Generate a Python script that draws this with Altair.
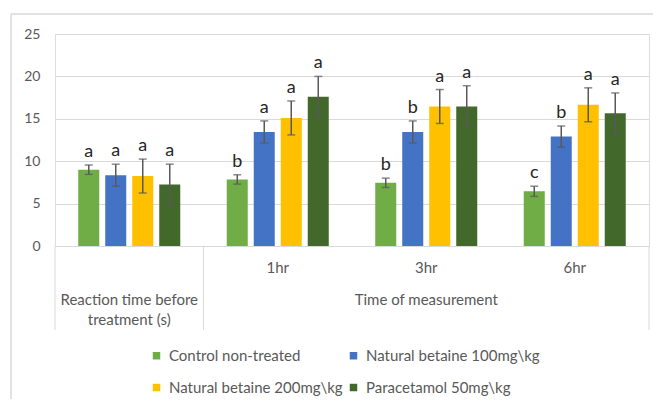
import altair as alt
import pandas as pd

# ---- data ----
cat_keys = ["pre", "1hr", "3hr", "6hr"]
cat_labels = ["", "1hr", "3hr", "6hr"]
series = ["Control non-treated", "Natural betaine 100mg\\kg",
          "Natural betaine 200mg\\kg", "Paracetamol 50mg\\kg"]
colors = ["#70ad47", "#4472c4", "#ffc000", "#43682b"]

control = [9.0, 7.85, 7.45, 6.45]
betaine100 = [8.35, 13.45, 13.45, 12.9]
betaine200 = [8.25, 15.1, 16.45, 16.65]
paracetamol = [7.25, 17.6, 16.45, 15.65]

control_err = [0.55, 0.55, 0.55, 0.6]
betaine100_err = [1.3, 1.3, 1.3, 1.25]
betaine200_err = [2.0, 2.0, 2.0, 2.0]
paracetamol_err = [2.4, 2.4, 2.45, 2.4]

control_let = ["a", "b", "b", "c"]
betaine100_let = ["a", "a", "b", "b"]
betaine200_let = ["a", "a", "a", "a"]
paracetamol_let = ["a", "a", "a", "a"]

group_titles = ["Reaction time before\ntreatment (s)", "Time of measurement"]
group_title_pos = ["pre", "3hr"]

# ---- build table ----
rows = []
for s, vals, errs, lets in zip(series,
                               [control, betaine100, betaine200, paracetamol],
                               [control_err, betaine100_err, betaine200_err, paracetamol_err],
                               [control_let, betaine100_let, betaine200_let, paracetamol_let]):
    for c, v, e, l in zip(cat_keys, vals, errs, lets):
        rows.append({"cat": c, "series": s, "value": v,
                     "lo": v - e, "hi": v + e, "letter": l})
df = pd.DataFrame(rows)
lab_df = pd.DataFrame({"cat": cat_keys, "label": cat_labels})
grp_df = pd.DataFrame({"cat": group_title_pos, "label": group_titles})
sep_df = pd.DataFrame({"cat": ["pre", "1hr"]})
end_df = pd.DataFrame({"cat": ["6hr"]})
one_df = pd.DataFrame({"k": [0]})

FONT = "Lato"
GRAY = "#595959"
LINE = "#d9d9d9"
W, H = 594, 212

xscale = alt.Scale(domain=cat_keys, paddingInner=0, paddingOuter=0)
xoff = alt.XOffset("series:N", scale=alt.Scale(domain=series, paddingInner=0.222, paddingOuter=0.861))
yscale = alt.Scale(domain=[0, 25], nice=False)

base = alt.Chart(df)

bars = base.mark_bar().encode(
    x=alt.X("cat:N", scale=xscale, axis=None, sort=cat_keys),
    xOffset=xoff,
    y=alt.Y("value:Q", scale=yscale,
            axis=alt.Axis(values=[0, 5, 10, 15, 20, 25], grid=True, gridColor=LINE,
                          gridWidth=1, domain=False, ticks=False, labelPadding=15,
                          labelFontSize=14, labelColor=GRAY, labelFont=FONT, title=None)),
    color=alt.Color("series:N", scale=alt.Scale(domain=series, range=colors),
                    legend=alt.Legend(orient="none", legendX=94, legendY=314, columns=2,
                                      direction="horizontal",
                                      title=None, symbolType="square", symbolSize=56,
                                      symbolStrokeWidth=0, labelFont=FONT, labelFontSize=15,
                                      labelColor=GRAY, labelOffset=5, columnPadding=3,
                                      rowPadding=16, labelLimit=300)),
)

err = base.mark_rule(color=GRAY, strokeWidth=1.5).encode(
    x=alt.X("cat:N", scale=xscale, sort=cat_keys),
    xOffset=xoff,
    y=alt.Y("lo:Q", scale=yscale),
    y2="hi:Q",
)
cap_hi = base.mark_tick(color=GRAY, size=8, thickness=1.5, orient="horizontal").encode(
    x=alt.X("cat:N", scale=xscale, sort=cat_keys),
    xOffset=xoff,
    y=alt.Y("hi:Q", scale=yscale),
)
cap_lo = base.mark_tick(color=GRAY, size=8, thickness=1.5, orient="horizontal").encode(
    x=alt.X("cat:N", scale=xscale, sort=cat_keys),
    xOffset=xoff,
    y=alt.Y("lo:Q", scale=yscale),
)
letters = base.mark_text(font=FONT, fontSize=18, color="#262626", baseline="alphabetic", dy=-8).encode(
    x=alt.X("cat:N", scale=xscale, sort=cat_keys),
    xOffset=xoff,
    y=alt.Y("hi:Q", scale=yscale),
    text="letter:N",
)

cat_text = alt.Chart(lab_df).mark_text(font=FONT, fontSize=15, color=GRAY, baseline="middle").encode(
    x=alt.X("cat:N", scale=xscale, sort=cat_keys),
    y=alt.value(234),
    text="label:N",
)
grp_text = alt.Chart(grp_df).mark_text(font=FONT, fontSize=15, color=GRAY, baseline="middle",
                                       lineBreak="\n", lineHeight=20).encode(
    x=alt.X("cat:N", scale=xscale, sort=cat_keys),
    y=alt.value(266),
    text="label:N",
)
seps = alt.Chart(sep_df).mark_rule(color=LINE, strokeWidth=1).encode(
    x=alt.X("cat:N", scale=xscale, sort=cat_keys, bandPosition=0),
    y=alt.value(H),
    y2=alt.value(296),
)
end_sep = alt.Chart(end_df).mark_rule(color=LINE, strokeWidth=1).encode(
    x=alt.X("cat:N", scale=xscale, sort=cat_keys, bandPosition=1),
    y=alt.value(H),
    y2=alt.value(296),
)
border_left = alt.Chart(one_df).mark_rule(color=LINE, strokeWidth=1.5).encode(
    x=alt.value(-44), y=alt.value(-20), y2=alt.value(420))
border_top = alt.Chart(one_df).mark_rule(color=LINE, strokeWidth=1.5).encode(
    y=alt.value(-20), x=alt.value(-44), x2=alt.value(700))

chart = alt.layer(border_left, border_top, bars, err, cap_hi, cap_lo, letters,
                  cat_text, grp_text, seps, end_sep).properties(
    width=W, height=H,
    autosize=alt.AutoSizeParams(type="none"),
    padding={"left": 47, "top": 26, "right": 4, "bottom": 153},
).configure_view(stroke=None).configure(background="white")

chart.save("out.html", embed_options={"renderer": "svg", "actions": False})
